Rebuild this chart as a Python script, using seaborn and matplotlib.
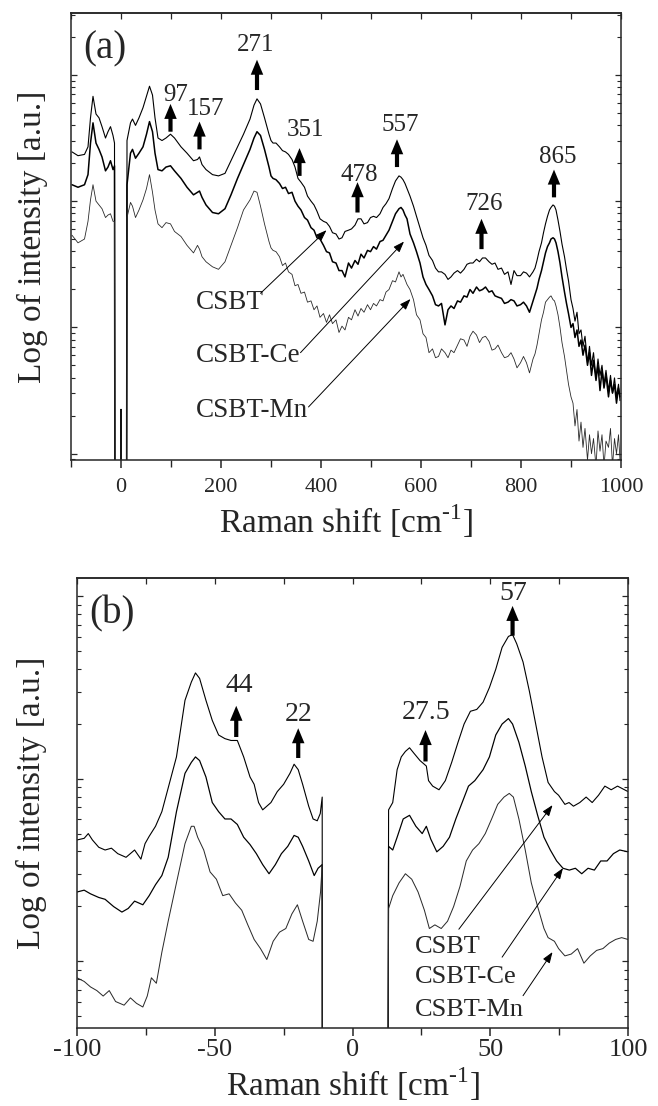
import numpy as np
import pandas as pd
import matplotlib
matplotlib.use("Agg")
import matplotlib.pyplot as plt
import seaborn as sns
from matplotlib.ticker import MultipleLocator, LogLocator, NullFormatter

# ---------------- data : panel (a) ----------------
# Raman shift (cm-1) sampling
a_shift = [-98, -86, -73, -66, -61, -56, -50, -44, -38, -31, -26, -21, -16, -13,
           -12, -1, 0, 1, 11,
           12, 19, 23, 29, 36, 44, 51, 57, 63, 68,
           74, 82, 90, 99, 107, 120, 132, 145, 153, 157,
           162, 170, 183, 195, 208, 220, 233, 245, 258, 266,
           272, 279, 287,
           296, 300, 304, 310, 317, 323, 329, 335, 342, 348,
           354, 360, 367, 373, 380, 386, 392, 398, 405, 411,
           417, 423, 430, 436, 442, 448, 455, 461, 468, 474,
           480, 486, 493, 499, 505, 511, 518, 524, 530, 536,
           543, 549, 556, 560, 564, 568, 572, 578, 585, 591,
           598, 604, 610, 616, 623, 629, 635, 641, 648, 654,
           660, 666, 673, 679, 686, 692, 698, 704, 711, 717,
           723, 729, 736, 742, 748, 754, 761, 767, 774, 780,
           786, 792, 799, 805, 811, 817, 824, 828, 832, 836,
           841, 845, 849, 853, 857, 860, 864, 867, 870, 874,
           878, 882, 887, 891, 895,
           900, 904, 908, 912, 916, 920, 924, 928, 933, 937, 941, 945, 950,
           954, 958, 962, 966, 970, 975, 979, 983, 987, 991, 995, 998]

# log10 of intensity (a.u.)
a_csbt = [2.39, 2.36, 2.37, 2.43, 2.66, 2.83, 2.69, 2.66, 2.59, 2.50, 2.55, 2.59, 2.52, 2.46,
          -1, -1, 0.35, -1, -1,
          2.48, 2.62, 2.65, 2.60, 2.66, 2.74, 2.83, 2.91, 2.84, 2.66,
          2.50, 2.48, 2.50, 2.53, 2.50, 2.43, 2.38, 2.32, 2.33, 2.35,
          2.29, 2.25, 2.21, 2.20, 2.22, 2.32, 2.43, 2.53, 2.65, 2.76,
          2.81, 2.77, 2.66,
          2.53, 2.48, 2.46, 2.46, 2.43, 2.40, 2.39, 2.37, 2.33, 2.27,
          2.18, 2.15, 2.11, 2.04, 2.00, 1.97, 1.92, 1.86, 1.84, 1.83,
          1.80, 1.75, 1.74, 1.70, 1.71, 1.76, 1.77, 1.78, 1.81, 1.86,
          1.86, 1.82, 1.83, 1.87, 1.88, 1.87, 1.90, 1.95, 1.98, 2.02,
          2.10, 2.16, 2.20, 2.19, 2.17, 2.14, 2.10, 2.04, 1.96, 1.88,
          1.79, 1.71, 1.65, 1.57, 1.53, 1.47, 1.44, 1.44, 1.42, 1.38,
          1.40, 1.43, 1.45, 1.43, 1.46, 1.50, 1.51, 1.51, 1.54, 1.52,
          1.55, 1.55, 1.52, 1.50, 1.51, 1.46, 1.47, 1.42, 1.44, 1.34,
          1.45, 1.41, 1.41, 1.44, 1.43, 1.40, 1.44, 1.47, 1.53, 1.60,
          1.67, 1.75, 1.82, 1.88, 1.93, 1.95, 1.97, 1.96, 1.93, 1.85,
          1.76, 1.66, 1.56, 1.46, 1.37,
          1.22, 1.15, 1.05, 1.12, 0.95, 0.98, 0.85, 0.93, 0.72, 0.85, 0.70, 0.80, 0.60,
          0.75, 0.62, 0.70, 0.55, 0.66, 0.50, 0.62, 0.48, 0.60, 0.45, 0.55, 0.42]

a_csbt_ce = [2.13, 2.11, 2.13, 2.21, 2.46, 2.62, 2.46, 2.41, 2.35, 2.24, 2.27, 2.32, 2.25, 2.28,
             -1, -1, 0.35, -1, -1,
             2.13, 2.38, 2.41, 2.34, 2.38, 2.43, 2.53, 2.63, 2.55, 2.38,
             2.25, 2.24, 2.27, 2.28, 2.24, 2.18, 2.11, 2.05, 2.07, 2.08,
             2.03, 1.97, 1.91, 1.90, 1.94, 2.05, 2.18, 2.29, 2.41, 2.50,
             2.55, 2.52, 2.41,
             2.27, 2.20, 2.18, 2.17, 2.14, 2.10, 2.11, 2.06, 2.07, 2.00,
             1.96, 1.93, 1.87, 1.85, 1.79, 1.77, 1.71, 1.70, 1.65, 1.60,
             1.59, 1.52, 1.51, 1.45, 1.45, 1.40, 1.51, 1.47, 1.53, 1.50,
             1.58, 1.55, 1.61, 1.60, 1.64, 1.62, 1.68, 1.69, 1.73, 1.77,
             1.84, 1.90, 1.94, 1.95, 1.93, 1.89, 1.86, 1.74, 1.67, 1.60,
             1.51, 1.40, 1.34, 1.30, 1.25, 1.18, 1.17, 1.19, 1.02, 1.14,
             1.17, 1.15, 1.21, 1.20, 1.25, 1.24, 1.30, 1.27, 1.32, 1.29,
             1.30, 1.32, 1.28, 1.29, 1.25, 1.24, 1.23, 1.19, 1.20, 1.22,
             1.21, 1.17, 1.18, 1.20, 1.17, 1.12, 1.21, 1.26, 1.31, 1.38,
             1.45, 1.52, 1.59, 1.64, 1.67, 1.70, 1.71, 1.70, 1.67, 1.60,
             1.51, 1.40, 1.28, 1.19, 1.11,
             1.00, 1.03, 0.92, 0.98, 0.85, 0.90, 0.78, 0.86, 0.70, 0.80, 0.62, 0.74, 0.58,
             0.70, 0.50, 0.66, 0.52, 0.62, 0.45, 0.58, 0.48, 0.55, 0.40, 0.52, 0.45]

a_csbt_mn = [1.73, 1.67, 1.70, 1.84, 2.01, 2.13, 2.00, 1.97, 1.94, 1.87, 1.89, 1.90, 1.84, 1.84,
             -1, -1, 0.35, -1, -1,
             1.87, 1.99, 1.96, 1.87, 1.93, 2.01, 2.10, 2.21, 2.07, 1.93,
             1.82, 1.79, 1.83, 1.82, 1.76, 1.72, 1.65, 1.59, 1.65, 1.62,
             1.56, 1.52, 1.48, 1.46, 1.52, 1.65, 1.79, 1.93, 2.01, 2.08,
             2.07, 1.96, 1.82,
             1.68, 1.63, 1.61, 1.60, 1.56, 1.49, 1.51, 1.44, 1.42, 1.33,
             1.34, 1.27, 1.28, 1.20, 1.21, 1.14, 1.17, 1.08, 1.11, 1.04,
             1.10, 1.03, 1.06, 0.96, 1.01, 0.98, 1.08, 1.06, 1.14, 1.09,
             1.15, 1.12, 1.18, 1.14, 1.19, 1.17, 1.22, 1.21, 1.28, 1.30,
             1.37, 1.36, 1.44, 1.40, 1.42, 1.38, 1.34, 1.30, 1.22, 1.10,
             1.06, 0.95, 0.92, 0.80, 0.83, 0.76, 0.77, 0.83, 0.80, 0.76,
             0.82, 0.80, 0.86, 0.91, 0.90, 0.85, 0.93, 0.97, 0.94, 0.88,
             0.92, 0.93, 0.89, 0.82, 0.83, 0.86, 0.80, 0.76, 0.77, 0.80,
             0.75, 0.68, 0.72, 0.77, 0.72, 0.64, 0.75, 0.79, 0.86, 0.95,
             1.06, 1.12, 1.20, 1.22, 1.24, 1.25, 1.22, 1.21, 1.17, 1.10,
             1.00, 0.88, 0.77, 0.66, 0.55,
             0.45, 0.40, 0.22, 0.35, 0.10, 0.25, 0.05, 0.20, -0.05, 0.15, 0.0, 0.12, -0.1,
             0.18, 0.02, 0.15, -0.1, 0.10, 0.05, 0.20, -0.1, 0.12, 0.0, 0.15, -0.05]

a_peaks = ["97", "157", "271", "351", "478", "557", "726", "865"]
a_peak_x = [99, 157, 272, 357, 473, 552, 721, 866]
a_arrow_tail = [2.55, 2.41, 2.88, 2.20, 1.91, 2.27, 1.62, 2.03]
a_arrow_head = [2.77, 2.63, 3.12, 2.42, 2.15, 2.49, 1.86, 2.25]
a_text_x = [110, 170, 270, 369, 476, 558, 727, 873]
a_text_y = [2.84, 2.73, 3.24, 2.56, 2.21, 2.60, 1.98, 2.35]

samples = ["CSBT", "CSBT-Ce", "CSBT-Mn"]
a_label_x = [149, 149, 149]
a_label_y = [1.20, 0.775, 0.34]
a_ptr_from = [(279, 1.27), (359, 0.80), (375, 0.37)]
a_ptr_to = [(411, 1.77), (566, 1.68), (579, 1.225)]

# ---------------- data : panel (b) ----------------
b_shift_csbt = [-100, -97.4, -95.9, -94.4, -92.1, -89.8, -87.5, -85.2, -82.2, -79.1,
                -76.8, -75.3, -73.8, -71.5, -69.2, -66.9, -63.9, -60.8, -58.5, -57.0,
                -55.5, -53.2, -50.9, -48.6, -46.3, -44.1, -41.8, -39.5, -37.2, -35.7,
                -34.1, -32.6, -31.1, -29.6, -27.3, -25.0, -22.7, -21.2, -19.7, -18.1,
                -15.9, -14.3, -12.8, -11.7, -11.0, -10.9, 12.7,
                13.1, 14.6, 16.2, 17.7, 19.2, 20.7, 22.3, 24.5, 26.8, 27.6,
                29.1, 31.4, 33.7, 36.0, 38.3, 40.5, 42.8, 45.1, 47.4, 49.7,
                52.0, 54.3, 56.6, 58.1, 59.6, 61.9, 64.2, 66.5, 68.8, 71.0,
                73.3, 74.8, 77.1, 78.6, 80.2, 82.5, 84.8, 87.0, 89.3, 91.6,
                93.9, 96.2, 100]
b_csbt = [0.665, 0.674, 0.70, 0.665, 0.625, 0.61, 0.62, 0.59, 0.57, 0.61,
          0.56, 0.645, 0.685, 0.74, 0.82, 0.95, 1.12, 1.43, 1.53, 1.58,
          1.55, 1.43, 1.32, 1.24, 1.22, 1.21, 1.21, 1.12, 1.01, 0.97,
          0.87, 0.83, 0.85, 0.87, 0.93, 0.97, 1.03, 1.08, 1.05, 0.97,
          0.85, 0.78, 0.77, 0.81, 0.90, -2, -2,
          0.83, 0.87, 1.05, 1.12, 1.15, 1.17, 1.14, 1.10, 1.07, 0.99,
          0.96, 0.94, 0.99, 1.09, 1.20, 1.30, 1.37, 1.38, 1.42, 1.50,
          1.60, 1.72, 1.78, 1.79, 1.74, 1.64, 1.48, 1.30, 1.12, 0.98,
          0.93, 0.91, 0.86, 0.87, 0.85, 0.87, 0.90, 0.87, 0.91, 0.96,
          0.94, 0.96, 0.93]

b_shift_ce = [-100, -97.4, -95.1, -92.1, -89.8, -86.7, -83.7, -81.4, -79.1, -76.1,
              -73.8, -71.5, -69.2, -66.9, -63.9, -60.8, -58.5, -57.0, -55.5, -53.2,
              -50.9, -48.6, -46.3, -44.1, -41.8, -39.5, -37.2, -34.9, -32.6, -30.3,
              -28.0, -25.8, -23.5, -21.2, -19.7, -18.1, -15.9, -13.9, -12.5, -11.0,
              -10.9, 12.7,
              13.1, 14.6, 16.2, 18.4, 20.7, 23.0, 25.3, 26.8, 28.4, 30.6,
              32.9, 35.2, 37.5, 39.8, 42.1, 44.4, 47.4, 49.7, 52.0, 54.3,
              56.6, 58.1, 60.4, 62.7, 64.9, 67.2, 69.5, 71.8, 74.1, 76.4,
              78.7, 80.9, 83.2, 85.5, 87.8, 90.1, 92.4, 94.7, 97.0, 100]
b_csbt_ce = [0.38, 0.39, 0.37, 0.35, 0.34, 0.30, 0.27, 0.29, 0.33, 0.31,
             0.36, 0.42, 0.47, 0.57, 0.82, 1.03, 1.09, 1.12, 1.10, 1.01,
             0.87, 0.82, 0.78, 0.78, 0.75, 0.68, 0.64, 0.59, 0.53, 0.48,
             0.53, 0.59, 0.63, 0.69, 0.68, 0.63, 0.55, 0.47, 0.51, 0.53,
             -2, -2,
             0.63, 0.61, 0.68, 0.78, 0.80, 0.74, 0.70, 0.74, 0.67, 0.60,
             0.63, 0.68, 0.78, 0.87, 0.96, 0.99, 1.05, 1.12, 1.24, 1.30,
             1.33, 1.30, 1.20, 1.07, 0.93, 0.80, 0.68, 0.61, 0.55, 0.51,
             0.50, 0.51, 0.48, 0.51, 0.50, 0.55, 0.55, 0.59, 0.61, 0.60]

b_shift_mn = [-100, -97.4, -95.1, -92.8, -90.5, -88.3, -86.0, -82.9, -80.6, -78.4,
              -76.1, -74.5, -73.0, -71.2, -69.2, -66.9, -63.9, -60.8, -58.5, -57.5,
              -56.2, -54.0, -51.7, -49.4, -47.1, -44.8, -42.5, -40.2, -38.0, -35.7,
              -33.4, -31.1, -28.8, -26.5, -24.2, -22.0, -20.0, -18.1, -15.9, -14.3,
              -12.8, -11.6, -11.0, -10.9, 12.7,
              13.1, 14.6, 16.9, 19.2, 21.5, 23.8, 26.1, 27.9, 29.9, 32.2,
              34.5, 36.7, 39.0, 41.3, 43.6, 45.9, 48.2, 50.5, 52.7, 55.0,
              56.9, 58.4, 60.4, 62.7, 64.9, 67.2, 69.5, 71.0, 73.3, 74.8,
              77.1, 79.4, 81.7, 84.0, 86.3, 88.6, 90.9, 93.2, 95.5, 97.7, 100]
b_csbt_mn = [-0.09, -0.11, -0.14, -0.16, -0.19, -0.16, -0.22, -0.24, -0.20, -0.23,
             -0.25, -0.19, -0.09, -0.12, 0.05, 0.22, 0.43, 0.645, 0.74, 0.74,
             0.68, 0.61, 0.49, 0.45, 0.36, 0.37, 0.32, 0.28, 0.20, 0.12,
             0.07, 0.01, 0.11, 0.16, 0.18, 0.26, 0.31, 0.22, 0.12, 0.11,
             0.22, 0.38, 0.53, -2, -2,
             0.29, 0.36, 0.43, 0.48, 0.45, 0.38, 0.28, 0.18, 0.20, 0.18,
             0.22, 0.30, 0.41, 0.55, 0.61, 0.645, 0.70, 0.78, 0.86, 0.90,
             0.92, 0.90, 0.78, 0.61, 0.43, 0.30, 0.18, 0.13, 0.11, 0.07,
             0.03, 0.04, 0.07, -0.01, 0.03, 0.06, 0.07, 0.10, 0.12, 0.13, 0.12]

b_peaks = ["44", "22", "27.5", "57"]
b_peak_x = [-42.2, -19.7, 26.5, 58.1]
b_arrow_tail = [1.229, 1.114, 1.095, 1.784]
b_arrow_head = [1.40, 1.277, 1.267, 1.947]
b_text_x = [-41, -19.5, 26.8, 58.4]
b_text_y = [1.51, 1.353, 1.363, 2.014]

b_label_x = [22.7, 22.7, 22.7]
b_label_y = [0.08, -0.083, -0.265]
b_ptr_from = [(38.6, 0.176), (54.3, 0.023), (61.9, -0.188)]
b_ptr_to = [(72.6, 0.856), (76.4, 0.511), (72.6, 0.051)]

x_title = "Raman shift [cm$^{\\mathregular{\u20101}}$]"
y_title = "Log of intensity [a.u.]"

# ---------------- style ----------------
sns.set_style("ticks")
plt.rcParams["font.family"] = ["Liberation Serif", "DejaVu Serif"]
plt.rcParams["mathtext.fontset"] = "custom"
plt.rcParams["mathtext.rm"] = "Liberation Serif"
plt.rcParams["axes.unicode_minus"] = False
plt.rcParams["axes.linewidth"] = 1.1

W, H = 658, 1106
fig = plt.figure(figsize=(W / 100, H / 100), dpi=100)
axa = fig.add_axes([71 / W, 1 - 460 / H, 550 / W, 447 / H])
axb = fig.add_axes([77 / W, 1 - 1028 / H, 551 / W, 450 / H])

line_styles = {"CSBT": ("#000000", 0.8), "CSBT-Ce": ("#000000", 1.1), "CSBT-Mn": ("#2a2a2a", 0.6)}


def draw_series(ax, x, logy, name, lw_scale=1.0):
    color, lw = line_styles[name]
    df = pd.DataFrame({"shift": x, "intensity": 10 ** np.asarray(logy, dtype=float)})
    sns.lineplot(data=df, x="shift", y="intensity", ax=ax, color=color,
                 linewidth=lw * lw_scale, estimator=None, sort=False, legend=False)


draw_series(axa, a_shift, a_csbt, "CSBT")
draw_series(axa, a_shift, a_csbt_ce, "CSBT-Ce")
draw_series(axa, a_shift, a_csbt_mn, "CSBT-Mn")

draw_series(axb, b_shift_csbt, b_csbt, "CSBT", 1.0)
draw_series(axb, b_shift_ce, b_csbt_ce, "CSBT-Ce", 0.8)
draw_series(axb, b_shift_mn, b_csbt_mn, "CSBT-Mn", 1.2)

fat_arrow = dict(arrowstyle="simple,head_length=0.9,head_width=0.75,tail_width=0.25",
                 fc="black", ec="black", lw=0, mutation_scale=12, shrinkA=0, shrinkB=0)
thin_arrow = dict(arrowstyle="-|>,head_length=0.55,head_width=0.2", color="black",
                  lw=0.7, mutation_scale=12, shrinkA=0, shrinkB=0)


def decorate(ax, xlim, ylog, peaks, px, tail, head, tx, ty, lx, ly, pfrom, pto,
             num_fs, lab_fs, major, minor, tick_fs, tick_pad, panel, xlabelpad, ylabelpad):
    ax.set_yscale("log")
    ax.set_xlim(*xlim)
    ax.set_ylim(10 ** ylog[0], 10 ** ylog[1])
    for lab, x, t0, t1, x2, y2 in zip(peaks, px, tail, head, tx, ty):
        ax.annotate("", xy=(x, 10 ** t1), xytext=(x, 10 ** t0), arrowprops=fat_arrow)
        ax.text(x2, 10 ** y2, lab, ha="center", va="center", fontsize=num_fs)
    for name, x, y, (fx, fy), (tx2, ty2) in zip(samples, lx, ly, pfrom, pto):
        ax.text(x, 10 ** y, name, ha="left", va="center", fontsize=lab_fs)
        ax.annotate("", xy=(tx2, 10 ** ty2), xytext=(fx, 10 ** fy), arrowprops=thin_arrow)
    ax.xaxis.set_major_locator(MultipleLocator(major))
    ax.xaxis.set_minor_locator(MultipleLocator(minor))
    ax.yaxis.set_major_locator(LogLocator(base=10, numticks=20))
    ax.yaxis.set_minor_locator(LogLocator(base=10, subs=np.arange(2, 10), numticks=50))
    ax.yaxis.set_major_formatter(NullFormatter())
    ax.yaxis.set_minor_formatter(NullFormatter())
    ax.tick_params(axis="x", which="major", direction="out", length=6, width=1.1,
                   labelsize=tick_fs, pad=tick_pad, top=False)
    ax.tick_params(axis="x", which="minor", direction="out", length=5, width=1.0, top=False)
    ax.tick_params(axis="y", which="major", direction="in", length=4, width=0.9,
                   left=True, right=True)
    ax.tick_params(axis="y", which="minor", direction="in", length=3, width=0.8,
                   left=True, right=True)
    sec = ax.secondary_xaxis("top")
    sec.xaxis.set_major_locator(MultipleLocator(minor))
    sec.tick_params(direction="in", length=4, width=0.9, labeltop=False)
    for s in ax.spines.values():
        s.set_linewidth(1.1)
    ax.set_xlabel(x_title, fontsize=24, labelpad=xlabelpad)
    ax.set_ylabel(y_title, fontsize=24, labelpad=ylabelpad)
    ax.text(0.022, 0.92, panel, transform=ax.transAxes, ha="left", va="center", fontsize=28)


decorate(axa, (-100, 1000), (-0.05, 3.49), a_peaks, a_peak_x, a_arrow_tail, a_arrow_head,
         a_text_x, a_text_y, a_label_x, a_label_y, a_ptr_from, a_ptr_to,
         18, 19.5, 200, 100, 16, 7, "(a)", 4, 13)
decorate(axb, (-100, 100), (-0.365, 2.10), b_peaks, b_peak_x, b_arrow_tail, b_arrow_head,
         b_text_x, b_text_y, b_label_x, b_label_y, b_ptr_from, b_ptr_to,
         20, 19, 50, 25, 19, 2, "(b)", 3, 18)

fig.savefig("out.png", dpi=100)
